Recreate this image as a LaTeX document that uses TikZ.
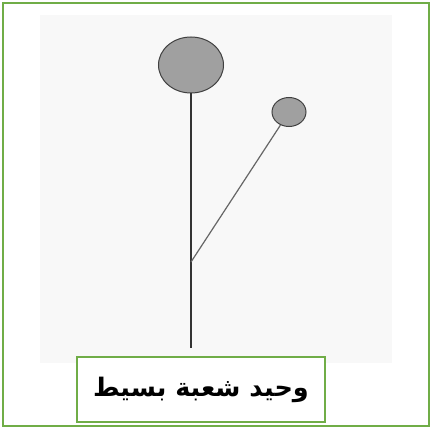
\documentclass[tikz,border=0pt]{standalone}
\usepackage{fontspec}
\newfontfamily\arabicfont[Script=Arabic]{DejaVu Sans}
\TeXXeTstate=1
\definecolor{framegreen}{HTML}{70AD47}
\definecolor{bulbgray}{HTML}{A0A0A0}
\definecolor{bggray}{HTML}{F8F8F8}
\usetikzlibrary{shapes.geometric}
\begin{document}
\begin{tikzpicture}[x=1pt,y=-1pt,
  bulb/.style={ellipse, draw=black!75, fill=bulbgray, line width=1pt, inner sep=0pt},
  stem/.style={draw=black!80, line width=1.1pt},
  branch/.style={draw=black!60, line width=1.2pt},
  greenbox/.style={draw=framegreen, line width=1.8pt, fill=white}]
\useasboundingbox (0,0) rectangle (432,428);
\node[draw=framegreen, line width=1.8pt, minimum width=426pt, minimum height=423pt, inner sep=0pt] (frame) at (216,214.5) {};
\fill[bggray] (40,15) rectangle (392,363);
\node[bulb, minimum width=65pt, minimum height=56pt] (big) at (191,65) {};
\node[bulb, minimum width=34pt, minimum height=29pt] (small) at (289,112) {};
\coordinate (fork) at (191,262);
\coordinate (base) at (191,348);
\draw[stem] (big.south) -- (base);
\draw[branch] (fork) -- (small);
\node[greenbox, minimum width=248pt, minimum height=65pt, inner sep=0pt] (label) at (201,389.5)
  {\fontsize{25.5}{30}\selectfont\arabicfont\bfseries\beginR وحيد شعبة بسيط\endR};
\end{tikzpicture}
\end{document}
